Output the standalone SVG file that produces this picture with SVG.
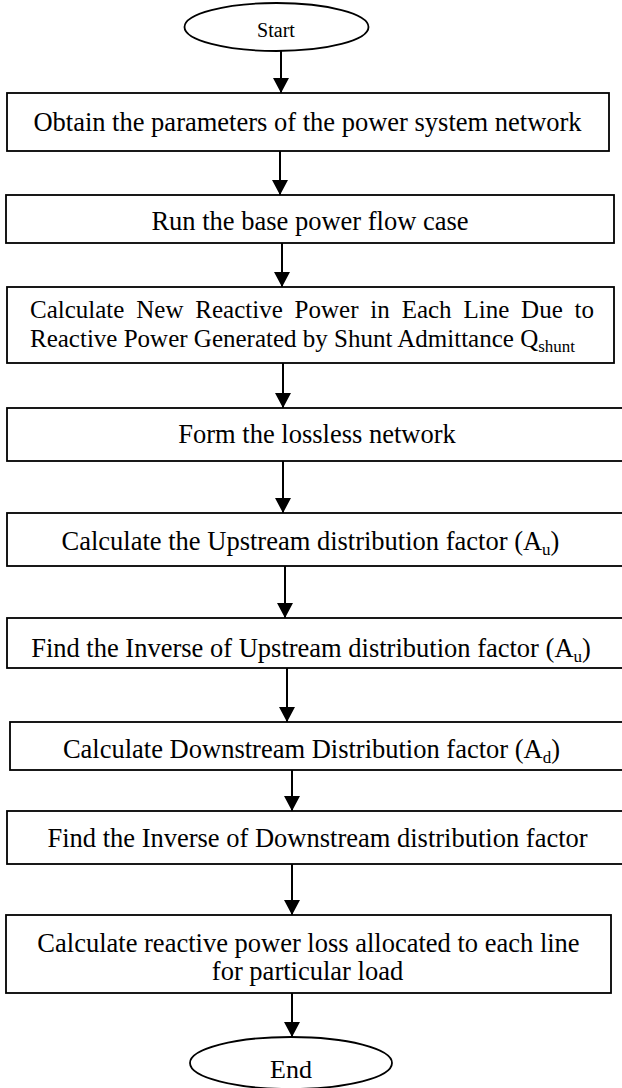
<svg xmlns="http://www.w3.org/2000/svg" width="622" height="1088" viewBox="0 0 622 1088">
  <style>
    .shape { fill: #ffffff; stroke: #000000; stroke-width: 1.8; }
    .label { font-family: "Liberation Serif", "Times New Roman", serif; font-size: 26.5px; fill: #000000; text-anchor: middle; }
    .small { font-size: 25px; }
    .sub { font-size: 17px; }
    .flow { stroke: #000000; stroke-width: 2; fill: none; marker-end: url(#head); }
  </style>
  <defs>
    <marker id="head" markerUnits="userSpaceOnUse" markerWidth="16" markerHeight="16" refX="15" refY="8" orient="auto">
      <path d="M0,0 L15,8 L0,16 z" fill="#000000"/>
    </marker>
  </defs>

  <rect width="622" height="1088" fill="#ffffff"/>

  <!-- connectors -->
  <g id="connectors">
    <line class="flow" x1="281" y1="51" x2="281" y2="93"/>
    <line class="flow" x1="280" y1="151" x2="280" y2="195"/>
    <line class="flow" x1="282" y1="240" x2="282" y2="287"/>
    <line class="flow" x1="283" y1="363" x2="283" y2="408"/>
    <line class="flow" x1="283" y1="461" x2="283" y2="513"/>
    <line class="flow" x1="285" y1="566" x2="285" y2="618"/>
    <line class="flow" x1="287" y1="665" x2="287" y2="722"/>
    <line class="flow" x1="292" y1="768" x2="292" y2="811"/>
    <line class="flow" x1="292" y1="864" x2="292" y2="915"/>
    <line class="flow" x1="292" y1="993" x2="292" y2="1037"/>
  </g>

  <!-- terminals and process steps -->
  <g id="start">
    <ellipse class="shape" cx="276.5" cy="27" rx="92" ry="24"/>
    <text class="label" x="276" y="37" style="font-size:20px">Start</text>
  </g>

  <g id="step-parameters">
    <rect class="shape" x="7" y="93" width="602" height="58"/>
    <text class="label" x="307.5" y="131">Obtain the parameters of the power system network</text>
  </g>

  <g id="step-base-flow">
    <rect class="shape" x="6" y="195" width="608" height="48"/>
    <text class="label" x="310" y="230" fill="#222222">Run the base power flow case</text>
  </g>

  <g id="step-new-reactive">
    <rect class="shape" x="7" y="287" width="607" height="76"/>
    <text class="label small" x="30" y="318" style="text-anchor:start" word-spacing="5.6">Calculate New Reactive Power in Each Line Due to</text>
    <text class="label small" x="30" y="347" style="text-anchor:start">Reactive Power Generated by Shunt Admittance Q<tspan class="sub" dy="5">shunt</tspan></text>
  </g>

  <g id="step-lossless">
    <rect class="shape" x="7" y="408" width="620" height="53"/>
    <text class="label" x="317" y="443">Form the lossless network</text>
  </g>

  <g id="step-upstream">
    <rect class="shape" x="7" y="513" width="620" height="53"/>
    <text class="label" x="310.5" y="550">Calculate the Upstream distribution factor (A<tspan class="sub" dy="5">u</tspan><tspan dy="-5">)</tspan></text>
  </g>

  <g id="step-inverse-upstream">
    <rect class="shape" x="7" y="618" width="620" height="50"/>
    <text class="label" x="311" y="657">Find the Inverse of Upstream distribution factor (A<tspan class="sub" dy="5">u</tspan><tspan dy="-5">)</tspan></text>
  </g>

  <g id="step-downstream">
    <rect class="shape" x="10" y="722" width="617" height="48"/>
    <text class="label" x="311.5" y="758">Calculate Downstream Distribution factor (A<tspan class="sub" dy="5">d</tspan><tspan dy="-5">)</tspan></text>
  </g>

  <g id="step-inverse-downstream">
    <rect class="shape" x="7" y="811" width="620" height="53"/>
    <text class="label" x="317.5" y="847">Find the Inverse of Downstream distribution factor</text>
  </g>

  <g id="step-allocation">
    <rect class="shape" x="6" y="915" width="605" height="78"/>
    <text class="label" x="308.5" y="952">Calculate reactive power loss allocated to each line</text>
    <text class="label" x="307.5" y="980">for particular load</text>
  </g>

  <g id="end">
    <ellipse class="shape" cx="291" cy="1063" rx="101" ry="26"/>
    <text class="label" x="291" y="1078" style="font-size:26px">End</text>
  </g>
</svg>
